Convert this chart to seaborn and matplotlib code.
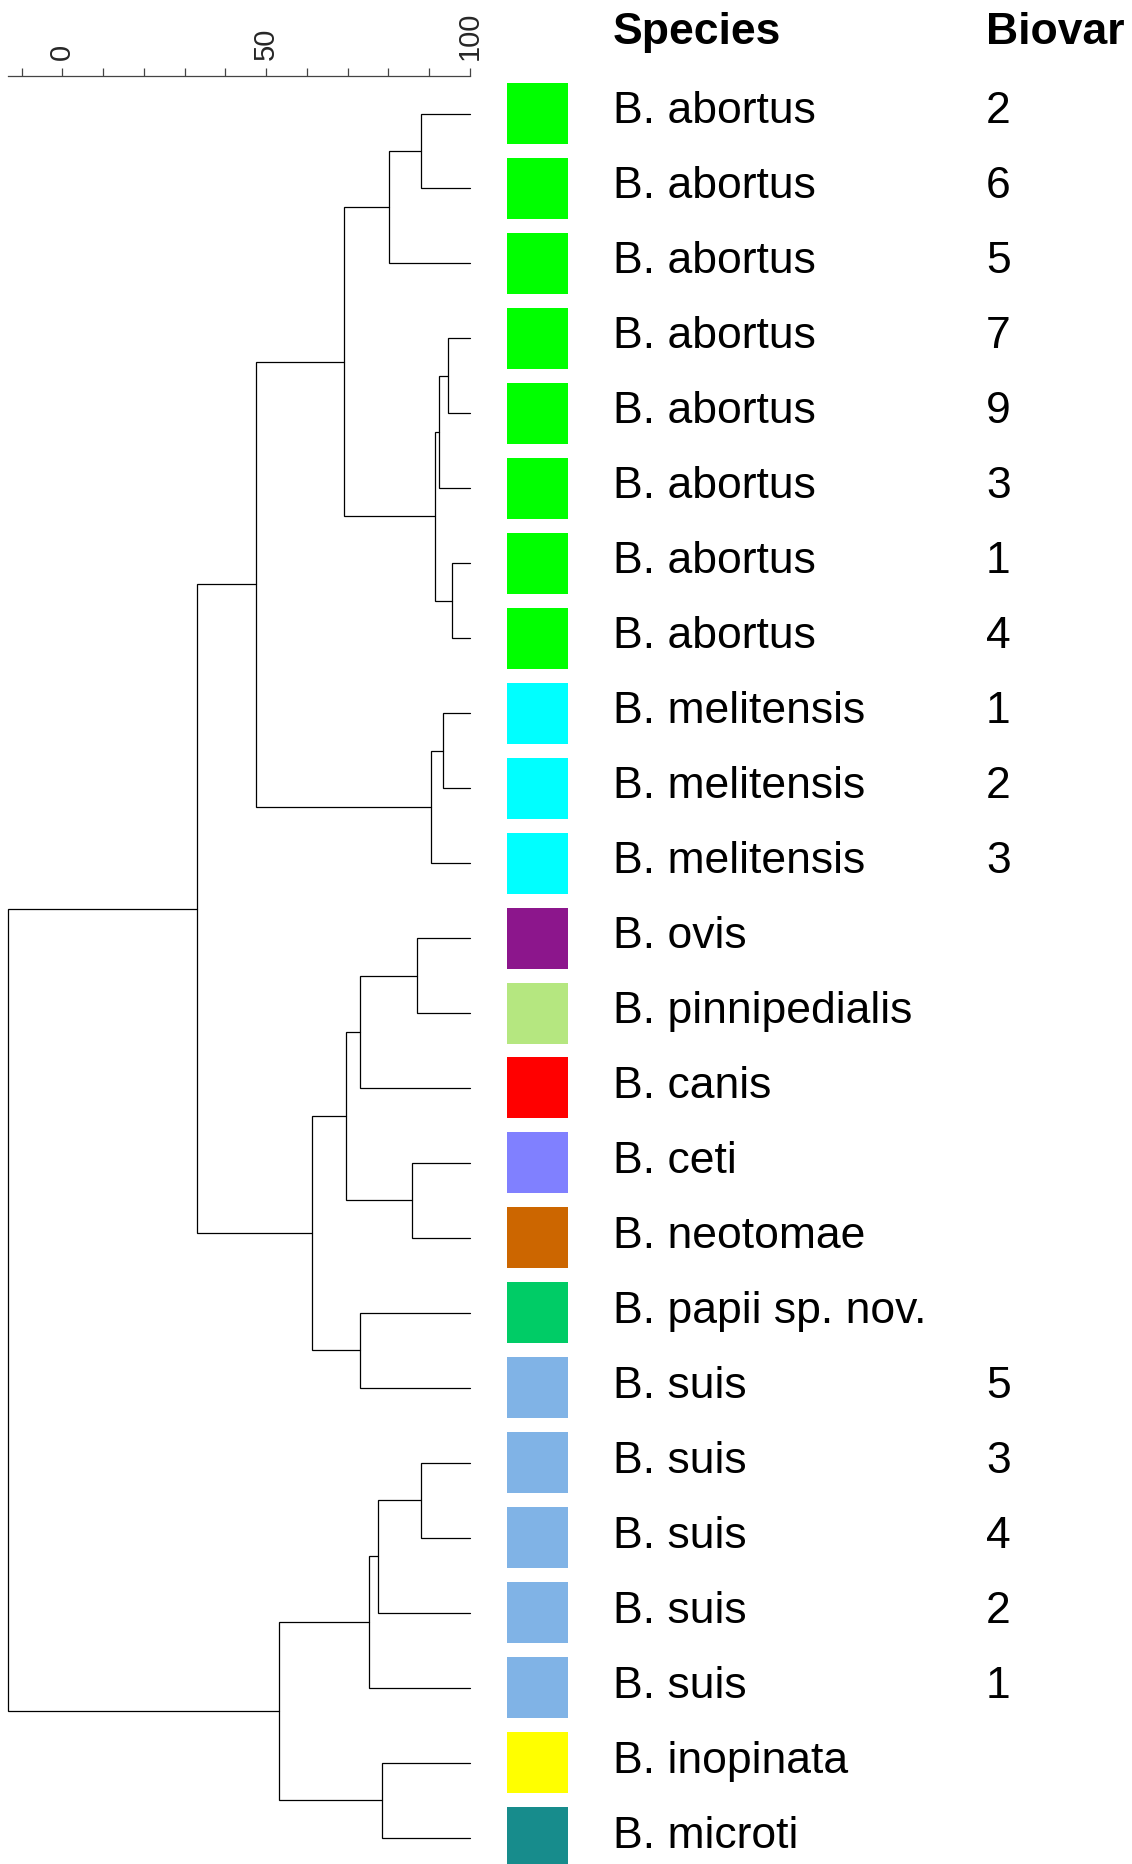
import numpy as np
import pandas as pd
import matplotlib
matplotlib.use("Agg")
import matplotlib.pyplot as plt
import seaborn as sns

# leaves, top to bottom
species = ["B. abortus"] * 8 + ["B. melitensis"] * 3 + [
    "B. ovis", "B. pinnipedialis", "B. canis", "B. ceti", "B. neotomae",
    "B. papii sp. nov."] + ["B. suis"] * 5 + ["B. inopinata", "B. microti"]
biovar = ["2", "6", "5", "7", "9", "3", "1", "4", "1", "2", "3",
          "", "", "", "", "", "", "5", "3", "4", "2", "1", "", ""]

species_colors = {
    "B. abortus": "#00FF00",
    "B. melitensis": "#00FFFF",
    "B. ovis": "#8C168C",
    "B. pinnipedialis": "#B5E780",
    "B. canis": "#FF0000",
    "B. ceti": "#8080FF",
    "B. neotomae": "#CC6600",
    "B. papii sp. nov.": "#00CC66",
    "B. suis": "#80B3E6",
    "B. inopinata": "#FFFF00",
    "B. microti": "#178C8C",
}

# merges (node ids: leaves 0..23, then 24, 25, ... in merge order), similarity %
merge_left = [0, 24, 3, 26, 6, 27, 25, 8, 31, 30, 11, 34, 14, 35, 16, 37, 33,
              18, 41, 42, 22, 43, 40]
merge_right = [1, 2, 4, 5, 7, 28, 29, 9, 10, 32, 12, 13, 15, 36, 17, 38, 39,
               19, 20, 21, 23, 44, 45]
merge_height = [88.0, 80.1, 94.6, 92.3, 95.6, 91.4, 69.1, 93.4, 90.5, 47.4,
                86.9, 72.9, 85.8, 69.5, 73.0, 61.2, 33.0, 88.0, 77.4, 75.2,
                78.4, 53.2, -13.4]

W, H = 1132, 1865
sns.set_style("white")
plt.rcParams["font.family"] = ["Liberation Sans", "DejaVu Sans"]

fig = plt.figure(figsize=(W / 100, H / 100), dpi=100)
ax_left, ax_right, ax_top = 7.7, 470.0, 76.7
ax = fig.add_axes([ax_left / W, 0, (ax_right - ax_left) / W, (H - ax_top) / H])

leaf_y0, leaf_dy = 114.5, 74.96
ax.set_xlim(-13.4, 100)
ax.set_ylim((H - leaf_y0) / leaf_dy, (ax_top - leaf_y0) / leaf_dy)

# tree
n = len(species)
pos_x = {i: 100.0 for i in range(n)}
pos_y = {i: float(i) for i in range(n)}
for k, (a, b, h) in enumerate(zip(merge_left, merge_right, merge_height)):
    ax.plot([pos_x[a], h, h, pos_x[b]], [pos_y[a], pos_y[a], pos_y[b], pos_y[b]],
            color="black", lw=0.9, clip_on=False, solid_joinstyle="miter")
    pos_x[n + k] = h
    pos_y[n + k] = (pos_y[a] + pos_y[b]) / 2

# coloured squares
df = pd.DataFrame({"species": species, "biovar": biovar,
                   "y": np.arange(n), "x": 116.6})
sns.scatterplot(data=df, x="x", y="y", hue="species", palette=species_colors,
                marker="s", s=1929, linewidth=0, legend=False, ax=ax,
                clip_on=False, zorder=3)

txt_kw = dict(fontsize=32, va="baseline", color="black")
for i, row in df.iterrows():
    ax.text(135.0, row["y"] + 0.12, row["species"], ha="left", **txt_kw)
    if row["biovar"]:
        ax.text(226.6, row["y"] + 0.12, row["biovar"], ha="left", **txt_kw)

head_y = (44 - leaf_y0) / leaf_dy
ax.text(135.0, head_y, "Species", ha="left", fontweight="bold", **txt_kw)
ax.text(226.6, head_y, "Biovar", ha="left", fontweight="bold", **txt_kw)

# scale axis on top
ticks = list(range(-10, 101, 10))
ax.set_xticks(ticks)
ax.set_xticklabels([str(t) if t in (0, 50, 100) else "" for t in ticks])
ax.xaxis.tick_top()
ax.tick_params(axis="x", length=6, width=0.9, color="#444444", pad=6,
               labelsize=21, labelrotation=90)
ax.set_yticks([])
ax.set_xlabel("")
ax.set_ylabel("")
for side in ["bottom", "left", "right"]:
    ax.spines[side].set_visible(False)
ax.spines["top"].set_color("#444444")
ax.spines["top"].set_linewidth(0.9)

fig.savefig("out.png", dpi=100)
